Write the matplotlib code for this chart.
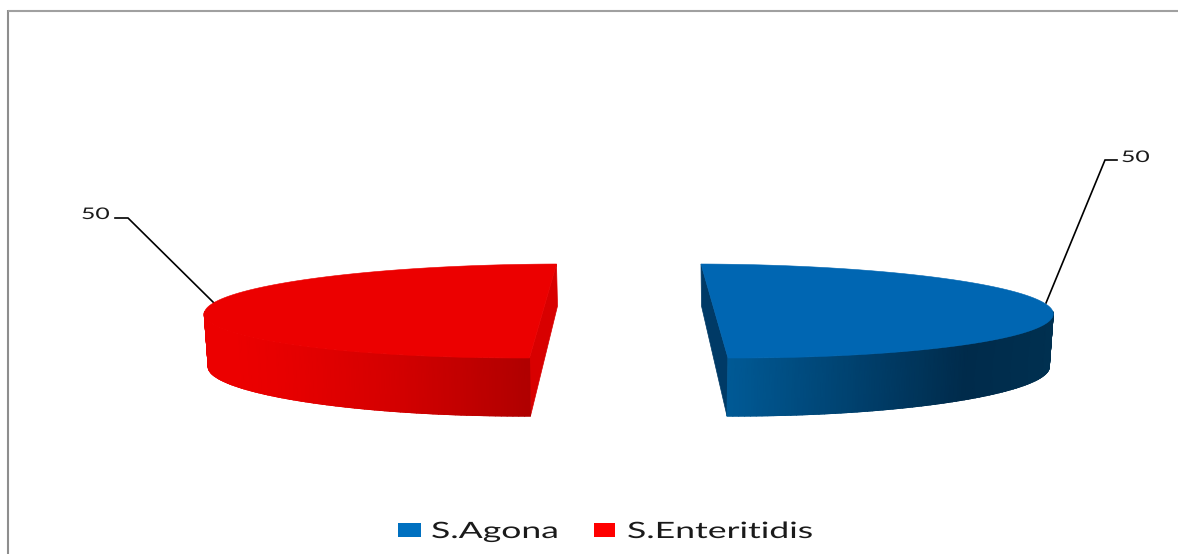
import numpy as np
import matplotlib
matplotlib.use("Agg")
import matplotlib.pyplot as plt
from matplotlib.colors import LinearSegmentedColormap
from matplotlib.patches import Polygon, Rectangle
from matplotlib.patheffects import AbstractPathEffect
from matplotlib.transforms import Affine2D

# ---------------- DATA ----------------
categories = ["S.Agona", "S.Enteritidis"]
values = [50, 50]

# ---------------- STYLE ----------------
top_colors = ["#0066B2", "#EC0000"]
cut_colors = ["#003A66", "#D80000"]
legend_colors = ["#0070C0", "#FF0000"]
wall_stops = [
    [(0.0, "#005A96"), (0.72, "#002B4B"), (1.0, "#003050")],
    [(0.0, "#B00000"), (0.4, "#D40000"), (0.72, "#E60000"), (0.9, "#EC0000"), (1.0, "#EC0000")],
]

# wedge geometry in image pixels
centers = [(714.5, 311.0), (543.0, 311.0)]
tilt = [(-13.5, -47.0), (13.5, -47.0)]
spread = (338.5, 1.0)
back_depth = 42.0
leaders = [
    [(1046, 303), (1105, 160), (1117, 160)],
    [(214, 303), (128, 218), (115, 218)],
]
label_pos = [(1121, 162), (81, 219)]
legend_box = [(398, 523, 23, 14), (594, 523, 21, 14)]
legend_text = [(431, 538), (627, 538)]


# the original text is stretched sideways, so scale the glyphs when drawing
class Stretch(AbstractPathEffect):
    def __init__(self, sx):
        super().__init__()
        self.sx = sx

    def draw_path(self, renderer, gc, tpath, affine, rgbFace=None):
        renderer.draw_path(gc, tpath, Affine2D().scale(self.sx, 1) + affine, rgbFace)


def rim(i, t):
    cx, cy = centers[i]
    x = cx + tilt[i][0] * np.cos(t) + spread[0] * np.sin(t)
    y = cy + tilt[i][1] * np.cos(t) + spread[1] * np.abs(np.sin(t))
    return x, y


def rim_bottom(i, t):
    x, y = rim(i, t)
    side = 1 if centers[i][0] > 628 else -1
    dx = -side * (1 + 3 * np.abs(np.sin(t)))
    return x + dx, y + 53 + 5 * np.cos(t) ** 2


# ---------------- FIGURE ----------------
fig = plt.figure(figsize=(11.78, 5.54), dpi=100)
ax = fig.add_axes([0, 0, 1, 1])
ax.set_xlim(0, 1178)
ax.set_ylim(554, 0)
ax.axis("off")

# chart frame
ax.plot([8, 8], [554, 10], color="#8E8E8E", lw=1.5, solid_capstyle="butt")
ax.plot([8, 1178], [10.7, 10.7], color="#A0A0A0", lw=1.5, solid_capstyle="butt")

# ---------------- PIE ----------------
total = sum(values)
start = 0.0
for i, v in enumerate(values):
    sweep = 2 * np.pi * v / total
    ts = np.linspace(start, start + sweep, 181)

    # flat cut face
    t0 = start if i == 0 else start + sweep
    t1 = start + sweep if i == 0 else start
    bx, by = rim(i, t0)
    fx, fy = rim(i, t1)
    gx, gy = rim_bottom(i, t1)
    ax.add_patch(Polygon([(bx, by), (fx, fy), (gx, gy), (bx + (0.5 if i == 0 else 1), by + back_depth)],
                         closed=True, fc=cut_colors[i], ec=cut_colors[i], lw=0.5, zorder=2))

    # front wall with a smooth gradient
    cmap = LinearSegmentedColormap.from_list("wall%d" % i, wall_stops[i])
    front = ts[(np.cos(ts) <= 0.02)]
    xa, ya = rim(i, front)
    xb, yb = rim_bottom(i, front)
    shade = np.abs(np.sin(front))
    ax.pcolormesh(np.array([xa, xb]), np.array([ya, yb]), np.array([shade, shade]),
                  cmap=cmap, vmin=0, vmax=1, shading="gouraud", zorder=2)
    # soften the lower edge of the wall
    for a, b, s in zip(range(len(front) - 1), range(1, len(front)), shade):
        ax.plot(xb[[a, b]], yb[[a, b]], color=cmap(s), lw=0.8, zorder=2, solid_capstyle="round")

    # top face
    xs, ys = rim(i, ts)
    ax.fill(xs, ys, color=top_colors[i], lw=0.4, zorder=3)
    start += sweep

# ---------------- LABELS ----------------
for i, v in enumerate(values):
    px, py = zip(*leaders[i])
    ax.plot(px, py, color="black", lw=1.2, zorder=1, solid_joinstyle="miter")
    ax.text(label_pos[i][0], label_pos[i][1], str(v), family="Lato", fontsize=11.5,
            color="#1A1A1A", ha="left", va="baseline",
            path_effects=[Stretch(1.55)])

# ---------------- LEGEND ----------------
for i, name in enumerate(categories):
    x, y, w, h = legend_box[i]
    ax.add_patch(Rectangle((x, y), w, h, fc=legend_colors[i], ec="none"))
    ax.text(legend_text[i][0], legend_text[i][1], name, family="Lato", fontsize=16.2,
            color="#1A1A1A", ha="left", va="baseline",
            path_effects=[Stretch(1.58)])

fig.savefig("out.png", dpi=100)
